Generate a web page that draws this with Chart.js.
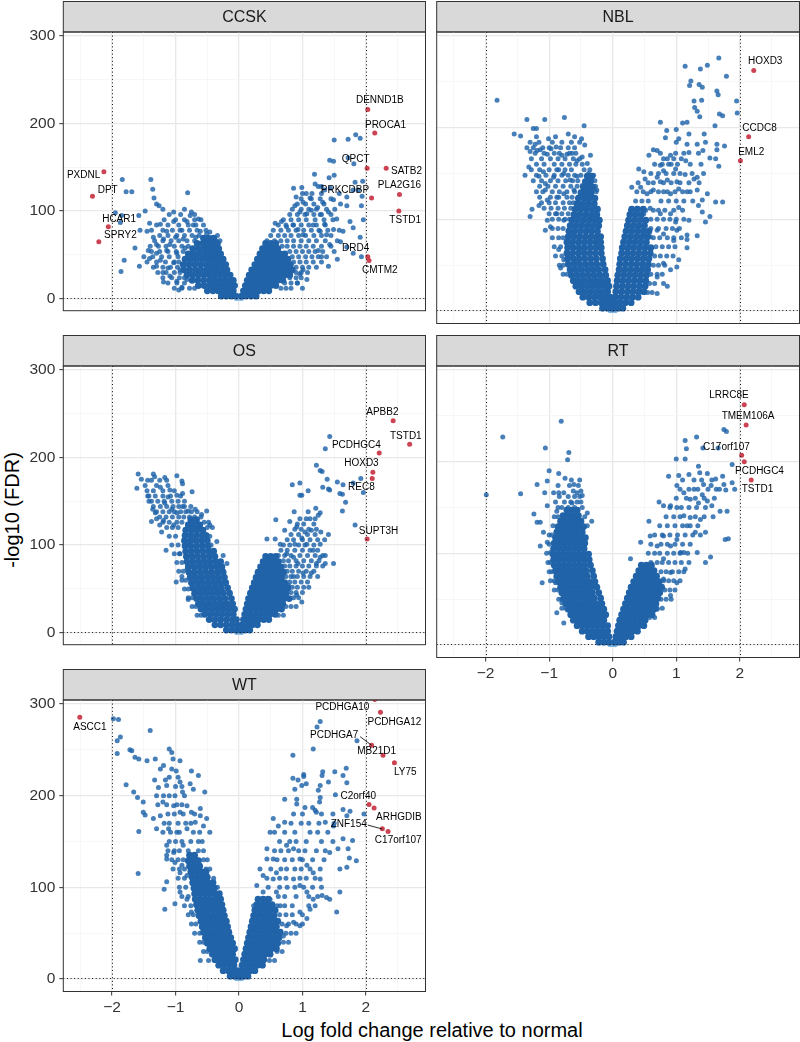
<!DOCTYPE html>
<html>
<head>
<meta charset="utf-8">
<script src="https://cdn.jsdelivr.net/npm/chart.js@4.4.0/dist/chart.umd.min.js"></script>
<style>
  body{margin:0;background:#fff;width:800px;height:1042px;position:relative;overflow:hidden;font-family:"Liberation Sans",Arial,sans-serif}
  canvas{position:absolute}
  .ttl{position:absolute;font-size:20px;color:#000;white-space:nowrap;transform:translate(-50%,-50%)}
</style>
</head>
<body>
<div class="ttl" style="left:432px;top:1030px">Log fold change relative to normal</div>
<div class="ttl" style="left:12px;top:510px;transform:translate(-50%,-50%) rotate(-90deg)">-log10 (FDR)</div>
<script>
// axis limits and ticks
const X_MIN = -2.77, X_MAX = 2.94, Y_MIN = -13.7, Y_MAX = 304.4;
const xGrid = [-2.5,-2,-1.5,-1,-0.5,0,0.5,1,1.5,2,2.5];
const xLabels = [-2,-1,0,1,2];
const yGrid = [0,50,100,150,200,250,300];
const yLabels = [0,100,200,300];
const vLines = [-2,2];
const hLines = [1.3];

// light points sitting at the origin
const centerPts = [[0,0.4],[-0.04,0.2],[0.04,0.2]];

// ---- CCSK ----
const ccskPts = [[-1.84,136],[-1.78,122],[-1.69,122],[-1.95,98],[-1.85,95],[-1.87,87],[-1.58,95],[-1.48,100],[-1.39,136],[-1.36,125],[-1.34,115],[-1.30,108],[-1.26,106],[-1.03,99],[-0.81,121],[-0.77,95],[-1.41,86],[-1.56,78],[-1.64,58],[-1.81,44],[-1.86,31],[-1.57,37],[-1.41,46],[-1.30,52],
[-1.24,85],[-1.14,77],[-1.03,88],[-0.93,78],[-0.88,68],[-1.09,62],[-0.98,52],[-1.19,68],[-1.35,70],[-1.45,77],[-1.30,62],[-1.43,55],[-1.24,44],[-1.14,55],[-0.82,88],[-0.72,84],[-0.61,77],[-0.75,99],[-0.64,91],[-0.51,74],[-0.56,66],[-0.46,76],[-1.03,41],[-0.93,33],[-1.09,26],[-1.19,19],[-0.82,22],[-1.30,37],[-1.12,35],[-0.98,20],[-0.9,13],[-1.0,70],[-0.68,70],[-1.2,30],[-0.95,10],[-0.85,58],
[1.84,187],[1.91,183],[1.50,181],[1.72,182],[1.43,158],[1.49,157],[1.72,161],[1.81,154],[1.19,142],[1.42,138],[1.50,141],[1.83,133],[1.95,134],[0.86,126],[0.99,127],[1.06,120],[1.20,131],[1.25,128],[1.30,128],[1.35,124],[1.44,126],[1.58,120],[1.70,116],[1.80,124],[1.88,124],[1.94,117],[0.90,116],[1.01,110],[1.12,115],[1.24,104],[1.32,110],[1.49,113],[1.51,102],[1.70,106],[1.93,106],[0.88,106],[0.96,99],[1.07,97],[1.14,101],[1.28,96],[1.41,99],[1.54,91],[1.75,88],[1.96,90],[0.57,86],[0.67,88],[0.75,82],[0.85,84],[0.93,79],[1.01,73],[1.17,84],[1.28,77],[1.38,73],[1.49,79],[1.64,77],[1.80,81],[1.91,70],[1.30,48],[1.43,62],[1.70,59],[1.80,52],[1.93,48],[1.41,37],[1.01,33],[1.07,22],[0.96,28],
[1.25,55],[1.35,85],[1.6,65],[1.55,45],[0.92,18],[1.0,12]];
// semi-dense arm rows: [y, x, x, ...]
const ccskMid = [
[12,-1.02,-0.9,-0.78,-0.7,0.66,0.74,0.82],
[18,-1.12,-0.98,-0.86,0.72,0.82,0.92],
[24,-1.2,-1.06,-0.94,-0.86,0.8,0.9,0.98],
[30,-1.28,-1.15,-1.02,-0.93,0.9,0.98,1.08],
[36,-1.35,-1.2,-1.08,-0.97,0.9,1.0,1.1,1.22],
[42,-1.45,-1.3,-1.16,-1.02,-0.95,0.86,0.96,1.06,1.17,1.3],
[48,-1.5,-1.36,-1.22,-1.1,-0.96,0.84,0.94,1.05,1.15,1.25,1.38],
[54,-1.38,-1.25,-1.12,-0.99,-0.88,0.8,0.9,1.0,1.1,1.2,1.32,1.5],
[60,-1.4,-1.27,-1.15,-1.02,-0.9,-0.8,0.68,0.76,0.86,0.96,1.06,1.17,1.3,1.45],
[66,-1.33,-1.2,-1.07,-0.95,-0.82,-0.7,-0.36,-0.3,0.44,0.56,0.66,0.76,0.86,0.98,1.1,1.22,1.36,1.55],
[72,-1.25,-1.12,-0.98,-0.86,-0.74,-0.63,-0.34,0.5,0.62,0.72,0.82,0.94,1.05,1.18,1.3,1.45],
[78,-1.38,-1.2,-1.05,-0.9,-0.78,-0.66,-0.52,0.54,0.66,0.78,0.9,1.02,1.14,1.26,1.4,1.58],
[84,-1.3,-1.12,-0.95,-0.8,-0.68,-0.56,0.62,0.74,0.86,0.98,1.1,1.22,1.36],
[90,-1.18,-1.0,-0.86,-0.7,-0.6,0.7,0.82,0.94,1.06,1.2,1.34,1.48],
[96,-1.1,-0.92,-0.7,0.8,0.92,1.04,1.18,1.3,1.45],
[102,-1.2,-0.86,0.84,0.98,1.1,1.22,1.38],
[108,0.92,1.05,1.18,1.34,1.6],
[114,0.98,1.14,1.28,1.45],
[120,1.0,1.15,1.3]];
// dense core, one row per y: [y, x, x, ...]
const ccskCore = [
[3,-0.28,-0.2,-0.12,-0.05,0.04,0.11,0.19,0.27],
[9,-0.5,-0.41,-0.33,-0.25,-0.17,-0.09,0.07,0.15,0.23,0.31,0.39,0.47],
[15,-0.64,-0.55,-0.46,-0.38,-0.3,-0.22,-0.14,-0.07,0.1,0.18,0.26,0.34,0.42,0.5,0.58],
[21,-0.74,-0.65,-0.56,-0.47,-0.39,-0.31,-0.23,-0.15,-0.09,0.13,0.21,0.29,0.37,0.45,0.53,0.61,0.69],
[27,-0.82,-0.73,-0.64,-0.55,-0.46,-0.38,-0.3,-0.22,-0.14,0.16,0.24,0.32,0.4,0.48,0.56,0.64,0.72,0.8],
[33,-0.87,-0.78,-0.69,-0.6,-0.51,-0.43,-0.35,-0.27,-0.19,0.2,0.28,0.36,0.44,0.52,0.6,0.68,0.76,0.84],
[39,-0.88,-0.79,-0.7,-0.61,-0.52,-0.44,-0.36,-0.28,-0.21,0.25,0.33,0.41,0.49,0.57,0.65,0.73,0.81],
[45,-0.85,-0.76,-0.67,-0.58,-0.49,-0.41,-0.33,-0.25,0.29,0.37,0.45,0.53,0.61,0.69,0.77],
[51,-0.8,-0.71,-0.62,-0.53,-0.45,-0.37,-0.29,0.33,0.41,0.49,0.57,0.65,0.72],
[57,-0.73,-0.64,-0.55,-0.47,-0.39,-0.32,0.37,0.45,0.53,0.61],
[63,-0.66,-0.57,-0.49,-0.41,-0.34,0.42,0.5,0.58],
[69,-0.56,-0.48,-0.4]];
const ccskRed = [[2.03,216],[2.14,189],[2.02,149],[2.32,149],[2.53,119],[2.09,115],[2.52,100],[2.03,48],[2.05,43.5],[-2.13,145],[-2.31,117],[-2.06,82],[-2.21,65]];
const ccskLab = [['DENND1B',2.22,226],['PROCA1',2.31,198],['QPCT',1.84,159],['SATB2',2.64,146],['PLA2G16',2.53,129],['PRKCDBP',1.67,124],['TSTD1',2.62,90],['DRD4',1.84,58],['CMTM2',2.22,33],['PXDNL',-2.45,141],['DPT',-2.07,124],['HCAR1',-1.89,91],['SPRY2',-1.87,72]];

// ---- NBL ----
const nblPts = [[-1.82,230],[-1.35,209],[-1.07,209],[-0.76,211],[-0.45,202],[-1.55,193],[-1.45,191],[-1.25,199],[-1.20,199],[-1.01,188],[-0.70,193],[-0.49,188],[-0.44,181],[-1.35,178],[-1.30,174],[-1.22,182],[-1.19,175],[-1.14,176],[-1.03,171],[-0.97,177],[-0.89,179],[-0.80,170],[-0.72,171],[-0.64,172],[-0.56,164],[-0.48,168],[-0.40,161],[-0.35,170],[-1.32,157],[-1.38,148],[-1.16,147],[-1.09,152],[-1.06,139],[-0.93,146],[-0.85,154],[-0.77,150],[-0.67,143],[-0.56,147],[-0.48,137],[-0.38,150],[-0.33,147],[-1.06,132],[-1.03,121],[-0.88,124],[-0.77,128],[-0.61,132],[-0.46,128],[-0.40,121],[-0.30,124],[-0.25,132],[-1.27,111],[-1.30,103],[-1.16,115],[-1.03,99],[-1.06,88],[-0.98,92],[-0.88,106],[-0.77,99],[-0.67,84],[-0.56,103],[-0.85,67],[-0.82,47],[-0.77,56],[-0.69,59],[-0.67,70],[-0.61,45],[-0.56,56],[-0.51,67],
[1.67,276],[1.14,267],[1.38,264],[1.49,268],[1.79,256],[1.23,251],[1.21,246],[1.36,247],[1.41,244],[1.64,240],[1.66,236],[1.95,229],[1.96,216],[1.28,229],[1.40,230],[1.29,222],[1.37,212],[1.33,218],[1.68,215],[1.73,213],[0.75,206],[1.10,205],[1.17,206],[1.61,202],[0.85,197],[1.00,198],[1.04,188],[1.20,193],[1.44,193],[0.83,189],[1.00,184],[1.17,182],[1.33,182],[1.46,184],[1.64,182],[1.76,180],[1.64,176],[0.57,170],[0.64,176],[0.70,175],[0.75,172],[0.91,170],[0.99,172],[1.12,172],[1.20,173],[1.35,172],[1.42,175],[1.53,167],[1.62,166],[1.67,158],[0.75,159],[0.80,153],[0.88,160],[0.99,155],[1.15,164],[1.39,160],[0.41,155],[0.49,152],[0.51,144],[0.70,146],[0.75,141],[0.86,143],[1.01,141],[1.14,149],[1.28,144],[1.33,146],[1.43,150],[0.30,135],[0.44,135],[0.54,128],[0.64,132],[0.80,130],[0.91,128],[1.04,133],[1.17,130],[1.33,132],[1.49,128],[1.41,121],[1.62,119],[1.73,119],[0.28,110],[0.38,112],[0.49,106],[0.59,112],[0.75,106],[0.91,106],[1.04,113],[1.20,99],[1.35,115],[1.41,108],[1.53,103],[1.46,97],[0.99,97],[1.17,83],[1.33,82],[1.17,78],[1.17,69],[1.01,88],[0.96,77],[0.80,84],[0.70,88],[0.59,81],[0.49,84],[1.04,56],[1.01,48],[0.91,45],[0.80,52],[0.70,37],[0.80,30],[0.70,19],[0.86,27],[0.54,48]];
const nblMid = [
[20,0.55,0.62],
[30,0.58,0.66],
[40,-0.78,-0.72,0.6,0.7,0.78],
[50,-0.84,-0.78,0.64,0.72,0.82],
[60,-0.9,-0.8,0.66,0.75,0.85,0.95],
[70,-0.92,-0.82,0.68,0.78,0.88,0.98],
[80,-0.95,-0.85,-0.78,0.64,0.74,0.86,0.96,1.08],
[90,-0.95,-0.86,-0.78,0.6,0.72,0.84,0.94,1.05],
[100,-0.95,-0.85,-0.75,-0.68,0.6,0.7,0.8,0.9,1.0,1.12],
[106,-1.0,-0.9,-0.8,-0.7],
[110,0.52,0.64,0.72,0.82,0.96,1.1],
[112,-1.08,-0.97,-0.86,-0.76,-0.66],
[118,-1.12,-1.0,-0.9,-0.78,-0.68,-0.62],
[120,0.36,0.46,0.56,0.76,0.88,1.0,1.12,1.26],
[124,-1.15,-0.98,-0.85,-0.72,-0.64],
[130,-1.2,-1.1,-0.95,-0.84,-0.72,-0.6,-0.26,0.38,0.48,0.6,0.72,0.86,0.98,1.1,1.22],
[136,-1.15,-1.02,-0.9,-0.78,-0.66,-0.56,-0.27],
[140,0.4,0.56,0.64,0.8,0.92,1.06,1.2,1.36],
[142,-1.25,-1.12,-0.98,-0.86,-0.74,-0.63,-0.55,-0.28],
[148,-1.2,-1.05,-0.92,-0.8,-0.7,-0.6,-0.5,-0.3],
[150,0.6,0.72,0.84,0.96,1.06,1.25],
[154,-1.28,-1.15,-1.0,-0.88,-0.75,-0.65,-0.45,-0.36],
[160,-1.2,-1.08,-0.92,-0.8,-0.68,-0.58,-0.48,0.66,0.78,0.92,1.02,1.22],
[166,-1.28,-1.12,-0.98,-0.86,-0.75,-0.62,-0.52,0.8,0.86,0.96,1.08],
[172,-1.22,-1.08,-0.92,-0.84,-0.68,-0.58],
[178,-1.25,-1.1,-1.0,-0.82,-0.7,-0.6],
[184,-1.3,-1.16,-0.95,-0.8,-0.65,-0.52],
[190,-1.2,-0.9,-0.6]];
const nblCore = [
[3,-0.16,-0.08,-0.01,0.02,0.09,0.16],
[9,-0.36,-0.27,-0.18,-0.1,-0.03,0.03,0.11,0.2,0.29],
[15,-0.47,-0.38,-0.29,-0.2,-0.12,-0.04,0.04,0.13,0.22,0.31,0.4],
[21,-0.53,-0.44,-0.35,-0.26,-0.17,-0.08,0.05,0.14,0.23,0.32,0.41,0.49],
[27,-0.58,-0.49,-0.4,-0.31,-0.22,-0.13,-0.06,0.06,0.15,0.24,0.33,0.42,0.51],
[33,-0.62,-0.53,-0.44,-0.35,-0.26,-0.17,-0.08,0.07,0.16,0.25,0.34,0.43,0.52],
[39,-0.65,-0.56,-0.47,-0.38,-0.29,-0.2,-0.11,0.08,0.17,0.26,0.35,0.44,0.53],
[45,-0.67,-0.58,-0.49,-0.4,-0.31,-0.22,-0.12,0.1,0.19,0.28,0.37,0.46,0.55],
[51,-0.7,-0.61,-0.52,-0.43,-0.34,-0.25,-0.15,0.11,0.2,0.29,0.38,0.47,0.56],
[57,-0.71,-0.62,-0.53,-0.44,-0.35,-0.26,-0.16,0.12,0.21,0.3,0.39,0.48,0.57],
[63,-0.72,-0.63,-0.54,-0.45,-0.36,-0.27,-0.18,0.14,0.23,0.32,0.41,0.5,0.59],
[69,-0.71,-0.62,-0.53,-0.44,-0.35,-0.26,-0.18,0.15,0.24,0.33,0.42,0.51,0.6],
[75,-0.72,-0.63,-0.54,-0.45,-0.36,-0.27,-0.19,0.17,0.26,0.35,0.44,0.53],
[81,-0.7,-0.61,-0.52,-0.43,-0.34,-0.25,-0.19,0.19,0.28,0.37,0.46,0.55],
[87,-0.69,-0.6,-0.51,-0.42,-0.33,-0.24,0.21,0.3,0.39,0.48,0.57],
[93,-0.67,-0.58,-0.49,-0.4,-0.31,-0.22,0.23,0.32,0.41,0.5],
[99,-0.64,-0.55,-0.46,-0.37,-0.28,-0.21,0.25,0.34,0.43,0.52],
[105,-0.61,-0.52,-0.43,-0.34,-0.25,0.27,0.36,0.45],
[111,-0.59,-0.5,-0.41,-0.32,-0.24,0.3,0.39,0.48],
[117,-0.56,-0.47,-0.38,-0.29],
[123,-0.54,-0.45,-0.36,-0.28],
[129,-0.5,-0.42,-0.34],
[135,-0.46,-0.38,-0.31],
[141,-0.43,-0.35],
[147,-0.4,-0.33]];
const nblRed = [[2.22,262.5],[2.14,190],[2.01,164]];
const nblLab = [['HOXD3',2.40,272],['CCDC8',2.31,199],['EML2',2.18,173]];

// ---- OS ----
const osPts = [[-1.59,181],[-1.54,175],[-1.61,165],[-1.35,181],[-1.33,178],[-1.38,174],[-1.17,177],[-1.14,174],[-0.98,179],[-0.90,173],[-0.89,170],[-1.44,156],[-1.42,150],[-1.36,141],[-1.30,130],[-1.25,123],[-1.38,127],[-1.32,137],[-1.24,166],[-1.09,163],[-0.98,157],[-0.89,159],[-0.74,161],[-1.12,155],[-1.17,148],[-1.06,141],[-0.98,137],[-0.89,144],[-0.80,139],[-0.69,141],[-0.59,135],[-0.51,139],[-1.19,128],[-1.15,94],[-1.22,115],[-1.03,123],[-0.99,58],[-0.93,90],[-0.82,101],[-0.75,108],[-0.80,38],[-0.90,64],[-0.82,72],[-0.72,50],[-0.61,43],[-0.46,123],[-0.35,104],[-0.25,88],[-0.19,79],
[1.43,224],[1.36,210],[1.22,191],[1.28,185],[1.31,184],[1.39,175],[1.55,172],[1.64,169],[1.80,171],[1.92,176],[1.96,160],[1.32,166],[1.41,164],[1.43,163],[0.84,169],[0.96,171],[1.09,162],[0.96,157],[0.99,157],[1.59,159],[1.63,158],[1.68,149],[1.63,139],[1.83,123],[0.87,138],[1.09,138],[1.21,142],[1.28,137],[1.12,130],[1.25,134],[1.29,115],[1.41,112],[1.49,79],[1.36,79],[1.28,101],[1.32,88],[0.58,129],[0.72,117],[0.80,127],[0.91,121],[1.04,115],[1.14,117],[0.99,108],[0.88,101],[1.07,101],[1.17,94],[1.28,86],[1.14,68],[1.22,79],[0.44,107],[0.57,107],[0.65,101],[0.75,90],[0.86,86],[0.93,79],[1.01,68],[0.86,64],[0.78,54],[0.91,43],[0.99,35],[0.70,43]];
const osMid = [
[20,-0.66,-0.6,0.62,0.7],
[30,-0.74,-0.68,0.74,0.82,0.9],
[40,-0.8,-0.74,0.86,0.94],
[46,0.82,0.9,1.0],
[50,-0.86,-0.8],
[52,0.84,0.92,1.02,1.1],
[58,0.8,0.88,0.98,1.08],
[60,-0.9,-0.84],
[64,0.74,0.82,0.92,1.02,1.12,1.24],
[70,-0.95,-0.88,0.76,0.84,0.94,1.06,1.18],
[76,0.72,0.8,0.9,1.0,1.1,1.22,1.32],
[80,-0.98,-0.9],
[82,0.7,0.78,0.9,1.02,1.14,1.26],
[88,0.62,0.72,0.82,0.96,1.08,1.2,1.36],
[90,-1.02,-0.94],
[94,0.66,0.76,0.88,1.0,1.12,1.24],
[100,-1.06,-0.96,-0.44,0.7,0.8,0.94,1.04,1.18],
[106,0.76,0.86,1.0,1.12,1.24,1.35],
[110,-1.1,-1.0,-0.46],
[112,0.82,0.94,1.08,1.2],
[118,0.88,0.98,1.1,1.22],
[120,-1.14,-1.05,-0.96,-0.5,-0.42],
[124,0.92,1.02,1.18],
[126,-1.2,-1.1,-0.98,-0.9,-0.55,-0.48],
[130,0.96,1.06,1.2],
[132,-1.25,-1.15,-1.05,-0.95,-0.87,-0.78,-0.7,-0.6],
[138,-1.3,-1.2,-1.1,-1.02,-0.92,-0.84,-0.75,-0.66],
[144,-1.35,-1.24,-1.14,-1.04,-0.95,-0.86,-0.76],
[150,-1.38,-1.28,-1.18,-1.06,-0.96,-0.86],
[156,-1.42,-1.32,-1.2,-1.08,-0.92],
[162,-1.45,-1.35,-1.2,-1.02],
[168,-1.48,-1.3,-1.12],
[174,-1.44,-1.25]];
const osCore = [
[3,-0.2,-0.12,-0.04,0.03,0.1,0.17],
[9,-0.38,-0.29,-0.2,-0.11,-0.03,0.05,0.13,0.21,0.29],
[15,-0.47,-0.38,-0.29,-0.2,-0.11,-0.04,0.07,0.15,0.23,0.31,0.39,0.47],
[21,-0.54,-0.45,-0.36,-0.27,-0.18,-0.09,0.09,0.17,0.25,0.33,0.41,0.49,0.57],
[27,-0.6,-0.51,-0.42,-0.33,-0.24,-0.15,-0.07,0.11,0.19,0.27,0.35,0.43,0.51,0.59,0.67],
[33,-0.64,-0.55,-0.46,-0.37,-0.28,-0.19,-0.1,0.13,0.21,0.29,0.37,0.45,0.53,0.61,0.69],
[39,-0.67,-0.58,-0.49,-0.4,-0.31,-0.22,-0.12,0.15,0.23,0.31,0.39,0.47,0.55,0.63,0.71,0.79],
[45,-0.7,-0.61,-0.52,-0.43,-0.34,-0.25,-0.15,0.18,0.26,0.34,0.42,0.5,0.58,0.66,0.74],
[51,-0.73,-0.64,-0.55,-0.46,-0.37,-0.28,-0.18,0.21,0.29,0.37,0.45,0.53,0.61,0.69,0.77],
[57,-0.75,-0.66,-0.57,-0.48,-0.39,-0.3,-0.21,0.24,0.32,0.4,0.48,0.56,0.64,0.72],
[63,-0.77,-0.68,-0.59,-0.5,-0.41,-0.32,-0.23,0.27,0.35,0.43,0.51,0.59,0.67],
[69,-0.79,-0.7,-0.61,-0.52,-0.43,-0.34,-0.25,0.3,0.38,0.46,0.54,0.62,0.7],
[75,-0.8,-0.71,-0.62,-0.53,-0.44,-0.35,-0.27,0.34,0.42,0.5,0.58,0.66],
[81,-0.82,-0.73,-0.64,-0.55,-0.46,-0.37,-0.29,0.38,0.46,0.54,0.62],
[87,-0.83,-0.74,-0.65,-0.56,-0.47,-0.38,0.42,0.5,0.58],
[93,-0.84,-0.75,-0.66,-0.57,-0.48,-0.4],
[99,-0.85,-0.76,-0.67,-0.58,-0.49],
[105,-0.86,-0.77,-0.68,-0.59,-0.5],
[111,-0.85,-0.76,-0.67,-0.58,-0.52],
[117,-0.84,-0.75,-0.66,-0.57],
[123,-0.8,-0.71,-0.62],
[129,-0.76,-0.67]];
const osRed = [[2.43,242],[2.69,215],[2.21,205],[2.11,183],[2.10,176],[2.02,107]];
const osLab = [['APBB2',2.26,252],['TSTD1',2.63,224],['PCDHGC4',1.85,214],['HOXD3',1.93,193],['REC8',1.93,166],['SUPT3H',2.2,116]];

// ---- RT ----
const rtPts = [[-1.99,164],[-1.73,227],[-1.45,165],[-1.06,215],[-0.81,244],[-0.69,210],[-0.71,202],[-1.00,190],[-0.85,187],[-1.19,175],[-1.03,179],[-1.07,166],[-0.93,166],[-0.85,166],[-0.77,166],[-0.75,182],[-0.61,175],[-0.56,166],[-0.48,163],[-0.64,155],[-1.24,143],[-1.19,134],[-1.14,134],[-1.03,152],[-0.88,146],[-0.77,141],[-0.72,148],[-0.56,137],[-0.40,144],[-0.33,135],[-1.09,123],[-1.14,108],[-1.03,112],[-0.98,101],[-1.11,68],[-0.90,68],[-0.82,64],[-0.77,83],[-0.67,75],[-0.80,46],[-0.88,35],[-0.77,24],
[1.75,235],[1.79,233],[1.32,227],[1.14,223],[1.16,214],[1.42,215],[1.66,215],[1.00,203],[1.14,203],[1.35,195],[1.88,197],[1.73,184],[1.88,177],[1.92,170],[1.78,169],[0.88,184],[1.04,185],[1.20,186],[1.37,188],[1.49,187],[1.62,181],[1.75,175],[1.63,170],[1.55,174],[1.43,175],[1.01,174],[1.12,166],[1.28,170],[1.41,164],[1.49,157],[1.35,155],[1.22,159],[1.56,152],[1.69,146],[1.80,146],[0.73,156],[0.80,152],[0.91,152],[1.01,150],[1.12,141],[1.22,139],[1.38,137],[1.17,130],[1.30,123],[1.46,123],[1.77,115],[1.82,116],[1.54,96],[1.46,90],[1.33,101],[1.12,101],[0.80,94],[0.44,112],[0.28,94],[0.57,135],[0.59,119],[0.70,108],[0.80,119],[0.91,108],[1.01,115],[1.07,101],[1.14,83],[0.91,79],[0.80,72],[0.70,64],[1.01,68],[0.91,54],[0.70,39],[0.59,50]];
const rtMid = [
[30,0.58,0.66],
[40,-0.8,-0.74,0.7,0.78],
[50,-0.85,-0.8,0.76,0.84,0.92],
[60,-0.92,-0.86,0.82,0.9,0.98],
[70,-0.98,-0.92,0.8,0.88,0.96,1.06],
[80,-1.0,-0.96,0.76,0.84,0.94,1.04,1.12],
[90,-1.02,-0.98,0.6,0.7,0.78,0.88,0.98,1.08,1.2],
[100,-1.04,0.56,0.66,0.74,0.86,0.96,1.06,1.18],
[110,-1.0,0.6,0.76,0.86,0.98,1.1,1.22],
[120,-1.0,-0.96,0.66,0.78,0.9,1.02,1.14,1.26,1.38],
[130,-0.94,-0.4,0.74,0.86,0.98,1.1,1.22,1.34],
[140,-0.92,-0.86,-0.44,0.84,0.96,1.06,1.3,1.44,1.58],
[150,-0.86,-0.8,-0.7,-0.6,-0.48,0.9,1.08,1.2,1.32,1.46],
[156,-0.9,-0.76,-0.66,-0.56,-0.5],
[160,1.0,1.16,1.3,1.44,1.6],
[162,-0.84,-0.7,-0.6,-0.52],
[168,-0.62,-0.5],
[170,1.06,1.2,1.34,1.5,1.68],
[174,-0.86,-0.68,-0.54],
[180,-0.65,-0.52,1.1,1.28,1.4,1.56]];
const rtCore = [
[3,-0.22,-0.14,-0.06,0.03,0.1,0.17],
[9,-0.38,-0.3,-0.22,-0.14,-0.06,0.05,0.13,0.21,0.29],
[15,-0.48,-0.4,-0.32,-0.24,-0.16,-0.08,0.07,0.15,0.23,0.31,0.39],
[21,-0.56,-0.48,-0.4,-0.32,-0.24,-0.16,-0.08,0.09,0.17,0.25,0.33,0.41,0.49],
[27,-0.62,-0.54,-0.46,-0.38,-0.3,-0.22,-0.14,0.11,0.19,0.27,0.35,0.43,0.51],
[33,-0.66,-0.58,-0.5,-0.42,-0.34,-0.26,-0.18,-0.11,0.14,0.22,0.3,0.38,0.46,0.54,0.62],
[39,-0.7,-0.62,-0.54,-0.46,-0.38,-0.3,-0.22,-0.14,0.17,0.25,0.33,0.41,0.49,0.57,0.65],
[45,-0.74,-0.66,-0.58,-0.5,-0.42,-0.34,-0.26,-0.17,0.2,0.28,0.36,0.44,0.52,0.6,0.68],
[51,-0.77,-0.69,-0.61,-0.53,-0.45,-0.37,-0.29,-0.19,0.23,0.31,0.39,0.47,0.55,0.63,0.71],
[57,-0.8,-0.72,-0.64,-0.56,-0.48,-0.4,-0.32,-0.22,0.26,0.34,0.42,0.5,0.58,0.66,0.74],
[63,-0.82,-0.74,-0.66,-0.58,-0.5,-0.42,-0.34,-0.25,0.29,0.37,0.45,0.53,0.61,0.69,0.77],
[69,-0.85,-0.77,-0.69,-0.61,-0.53,-0.45,-0.37,-0.28,0.33,0.41,0.49,0.57,0.65,0.73],
[75,-0.88,-0.8,-0.72,-0.64,-0.56,-0.48,-0.4,-0.3,0.37,0.45,0.53,0.61,0.69],
[81,-0.9,-0.82,-0.74,-0.66,-0.58,-0.5,-0.42,-0.32,0.41,0.49,0.57,0.65],
[87,-0.92,-0.84,-0.76,-0.68,-0.6,-0.52,-0.44,-0.35,0.45,0.53,0.61],
[93,-0.93,-0.85,-0.77,-0.69,-0.61,-0.53,-0.45,-0.37],
[99,-0.94,-0.86,-0.78,-0.7,-0.62,-0.54,-0.46,-0.38],
[105,-0.93,-0.85,-0.77,-0.69,-0.61,-0.53,-0.45],
[111,-0.92,-0.84,-0.76,-0.68,-0.6,-0.52,-0.44],
[117,-0.9,-0.82,-0.74,-0.66,-0.58,-0.5,-0.43],
[123,-0.88,-0.8,-0.72,-0.64,-0.56,-0.48],
[129,-0.86,-0.78,-0.7,-0.62,-0.54,-0.46],
[135,-0.82,-0.74,-0.66,-0.58,-0.5],
[141,-0.78,-0.7,-0.62,-0.54],
[147,-0.72,-0.64,-0.56]];
const rtRed = [[2.07,262],[2.10,240],[2.03,207],[2.07,200],[2.18,180]];
const rtLab = [['LRRC8E',1.83,272],['TMEM106A',2.13,250],['C17orf107',1.79,216],['PCDHGC4',2.31,190],['TSTD1',2.28,170]];

// ---- WT ----
const wtPts = [[-1.98,284],[-1.90,283],[-1.87,264],[-1.92,260],[-1.92,246],[-1.40,271],[-1.72,250],[-1.69,249],[-1.64,242],[-1.58,240],[-1.45,238],[-1.32,240],[-1.19,233],[-1.24,229],[-1.10,251],[-1.06,247],[-1.04,240],[-0.93,238],[-1.06,229],[-0.99,227],[-1.78,212],[-1.66,204],[-1.60,198],[-1.51,193],[-1.33,217],[-1.27,209],[-1.16,217],[-1.14,211],[-1.30,200],[-0.93,215],[-0.75,227],[-0.64,222],[-0.72,207],[-0.77,213],[-0.89,204],[-1.01,200],[-1.19,200],[-1.20,193],[-1.51,182],[-1.48,179],[-1.58,161],[-1.59,115],[-1.18,98],[-1.17,76],[-1.01,82],[-1.14,106],[-0.93,116],[-1.14,131],[-1.14,146],[-1.35,175],[-1.24,178],[-1.03,189],[-0.93,182],[-0.82,189],[-0.75,182],[-0.61,186],[-0.54,204],[-1.30,164],[-1.11,164],[-0.98,160],[-0.82,164],[-0.69,171],[-0.61,178],[-0.56,167],[-0.46,160],[-0.51,175],[-1.14,135],[-1.03,138],[-0.88,146],[-0.77,135],[-0.67,131],[-0.90,124],[-1.01,127],[-0.82,113],[-0.72,106],[-0.61,95],[-0.46,102],[-0.61,73],[-0.51,51],[-0.40,33],[-0.61,20],[-0.48,20],[-0.82,87],[-0.93,95],[-0.75,73],
[1.28,281],[1.23,275],[1.17,251],[0.85,244],[1.86,260],[1.69,230],[1.64,222],[1.70,214],[1.51,226],[1.41,215],[1.32,226],[1.31,222],[1.28,211],[1.02,223],[1.02,221],[1.06,213],[0.93,217],[0.85,219],[0.99,211],[0.88,207],[0.91,196],[1.25,206],[1.28,198],[1.27,193],[1.22,182],[1.20,184],[1.16,187],[1.04,187],[0.91,191],[0.72,196],[1.52,201],[1.97,180],[1.75,183],[1.70,178],[1.64,185],[1.36,171],[1.49,167],[1.64,153],[1.72,142],[1.79,151],[1.85,129],[1.59,120],[1.70,122],[1.74,132],[1.56,142],[1.43,138],[1.38,89],[1.43,87],[1.54,73],[1.59,95],[1.28,109],[1.31,91],[1.17,116],[1.07,124],[0.96,131],[0.86,142],[0.75,146],[0.62,167],[0.54,175],[0.49,160],[0.72,171],[0.44,142],[0.54,131],[0.33,120],[0.44,131],[0.59,116],[0.75,120],[0.86,109],[0.96,102],[1.07,95],[1.17,87],[1.12,76],[0.96,73],[0.86,62],[0.75,58],[0.70,47],[0.96,58],[1.07,66],[0.28,102],[0.38,95],[0.49,87],[0.59,95],[0.65,80],[0.23,80],[0.54,109],[0.38,113]];
const wtMid = [
[20,0.48,0.56],
[30,-0.56,-0.5,0.6,0.68],
[40,-0.62,-0.56,0.7,0.78],
[50,-0.7,-0.62,0.74,0.82,0.9],
[60,-0.75,-0.68,0.68,0.78,0.9,1.0],
[70,-0.8,-0.72,0.64,0.74,0.84,1.0],
[80,-0.86,-0.76,0.6,0.72,0.84,1.1,1.2],
[90,-0.9,-0.8,0.62,0.72,0.9,1.1,1.24],
[100,-0.94,-0.84,-0.34,0.46,0.64,0.76,0.88,1.02,1.16,1.3],
[110,-0.96,-0.86,-0.4,0.44,0.64,0.74,0.96,1.06,1.2],
[120,-1.04,-0.94,-0.86,-0.52,-0.46,0.5,0.66,0.88,0.98,1.12,1.28],
[130,-1.06,-0.96,-0.88,-0.56,-0.5,0.6,0.72,0.84,1.0,1.16,1.34],
[140,-1.12,-1.02,-0.94,-0.8,-0.64,-0.56,0.56,0.66,0.78,0.94,1.04,1.22,1.36],
[150,-1.1,-1.0,-0.9,-0.76,-0.64,-0.58,0.64,0.8,0.9,1.06,1.3,1.48],
[160,-1.2,-1.08,-0.94,-0.72,-0.62,0.56,0.72,0.88,1.12,1.24,1.4],
[170,-1.18,-1.1,-0.96,-0.84,-0.76,0.82,0.98,1.1,1.26,1.5],
[180,-1.12,-1.02,-0.88,-0.7,0.86,1.0,1.3,1.48],
[190,-1.28,-1.14,-0.98,-0.9],
[200,-1.1,-0.86],
[210,-1.0,-0.9],
[220,-1.1,-0.96]];
const wtCore = [
[3,-0.14,-0.07,0,0.02,0.08,0.14],
[9,-0.25,-0.17,-0.09,-0.02,0.04,0.11,0.18,0.25],
[15,-0.32,-0.24,-0.16,-0.08,0.05,0.13,0.21,0.29,0.37],
[21,-0.38,-0.3,-0.22,-0.14,-0.06,0.07,0.15,0.23,0.31,0.39],
[27,-0.42,-0.34,-0.26,-0.18,-0.1,0.09,0.17,0.25,0.33,0.41,0.49],
[33,-0.46,-0.38,-0.3,-0.22,-0.14,-0.07,0.11,0.19,0.27,0.35,0.43,0.51,0.59],
[39,-0.5,-0.42,-0.34,-0.26,-0.18,-0.1,0.13,0.21,0.29,0.37,0.45,0.53,0.61],
[45,-0.53,-0.45,-0.37,-0.29,-0.21,-0.13,0.15,0.23,0.31,0.39,0.47,0.55,0.63],
[51,-0.56,-0.48,-0.4,-0.32,-0.24,-0.16,0.17,0.25,0.33,0.41,0.49,0.57,0.65],
[57,-0.58,-0.5,-0.42,-0.34,-0.26,-0.18,0.19,0.27,0.35,0.43,0.51,0.59],
[63,-0.6,-0.52,-0.44,-0.36,-0.28,-0.2,0.21,0.29,0.37,0.45,0.53,0.61],
[69,-0.63,-0.55,-0.47,-0.39,-0.31,-0.23,0.23,0.31,0.39,0.47,0.55],
[75,-0.65,-0.57,-0.49,-0.41,-0.33,-0.25,0.25,0.33,0.41,0.49,0.57],
[81,-0.67,-0.59,-0.51,-0.43,-0.35,-0.27,0.28,0.36,0.44,0.52],
[87,-0.69,-0.61,-0.53,-0.45,-0.37,-0.29,0.3,0.38,0.46],
[93,-0.7,-0.62,-0.54,-0.46,-0.38,-0.31],
[99,-0.71,-0.63,-0.55,-0.47,-0.39],
[105,-0.73,-0.65,-0.57,-0.49,-0.41],
[111,-0.74,-0.66,-0.58,-0.5],
[117,-0.76,-0.68,-0.6,-0.52],
[123,-0.78,-0.7,-0.62],
[129,-0.8,-0.72,-0.64],
[135,-0.78,-0.7]];
const wtRed = [[-2.51,285.5],[2.14,305],[2.23,291],[2.09,255],[2.27,244],[2.45,236],[2.05,190.5],[2.13,186.5],[2.26,164],[2.35,161]];
const wtLab = [['ASCC1',-2.35,275],['PCDHGA10',1.63,296],['PCDHGA12',2.45,280],['PCDHGA7',1.5,265.4],['MB21D1',2.17,248.4],['LY75',2.62,225.8],['C2orf40',1.88,199.6],['ARHGDIB',2.52,176.7],['ZNF154',1.73,169],['C17orf107',2.51,151]];
const wtSeg = [[1.91,264.4,2.09,255],[2.03,167.9,2.26,163.6]];

const FONT = '"Liberation Sans", Arial, sans-serif';
const BLUE = 'rgba(31,99,170,0.82)';
const CORE = 'rgb(33,99,168)';
const LIGHT = 'rgba(120,175,220,0.9)';
const RED = 'rgba(200,52,68,0.92)';

const toPts = arr => arr.map(p => ({x: p[0], y: p[1]}));
const fromRows = rows => rows.flatMap(r => r.slice(1).map(x => ({x, y: r[0]})));
const fmt = v => v < 0 ? '\u2212' + Math.abs(v) : String(v);

const facetPlugin = {
  id: 'facet',
  beforeDraw(chart, args, o) {
    const {ctx, chartArea: a} = chart;
    ctx.save();
    ctx.fillStyle = '#d9d9d9';
    ctx.fillRect(a.left, 1, a.right - a.left, a.top - 1);
    ctx.strokeStyle = '#333';
    ctx.lineWidth = 1;
    ctx.strokeRect(a.left, 1.5, a.right - a.left, a.top - 1.5);
    ctx.fillStyle = '#1a1a1a';
    ctx.font = '16px ' + FONT;
    ctx.textAlign = 'center';
    ctx.textBaseline = 'middle';
    ctx.fillText(o.title, (a.left + a.right) / 2, (a.top + 1) / 2 + 1);
    ctx.restore();
  },
  afterDatasetsDraw(chart, args, o) {
    const {ctx, chartArea: a, scales: {x, y}} = chart;
    ctx.save();
    ctx.beginPath();
    ctx.rect(a.left, a.top, a.right - a.left, a.bottom - a.top);
    ctx.clip();
    ctx.strokeStyle = '#111';
    ctx.lineWidth = 1;
    ctx.setLineDash([1, 2.6]);
    vLines.forEach(v => {
      const px = Math.round(x.getPixelForValue(v)) + 0.5;
      ctx.beginPath(); ctx.moveTo(px, a.top); ctx.lineTo(px, a.bottom); ctx.stroke();
    });
    hLines.forEach(v => {
      const py = Math.round(y.getPixelForValue(v)) + 0.5;
      ctx.beginPath(); ctx.moveTo(a.left, py); ctx.lineTo(a.right, py); ctx.stroke();
    });
    ctx.setLineDash([]);
    ctx.lineWidth = 0.9;
    (o.segs || []).forEach(s => {
      ctx.beginPath();
      ctx.moveTo(x.getPixelForValue(s[0]), y.getPixelForValue(s[1]));
      ctx.lineTo(x.getPixelForValue(s[2]), y.getPixelForValue(s[3]));
      ctx.stroke();
    });
    ctx.restore();
    ctx.save();
    ctx.fillStyle = '#000';
    ctx.font = '10px ' + FONT;
    ctx.textAlign = 'center';
    ctx.textBaseline = 'middle';
    o.labels.forEach(l => ctx.fillText(l[0], x.getPixelForValue(l[1]), y.getPixelForValue(l[2])));
    ctx.restore();
  },
  afterDraw(chart) {
    const {ctx, chartArea: a} = chart;
    ctx.save();
    ctx.strokeStyle = '#333';
    ctx.lineWidth = 1;
    ctx.strokeRect(a.left, a.top, a.right - a.left, a.bottom - a.top);
    ctx.restore();
  }
};

function gridColor(ctx, major) {
  return major.includes(ctx.tick.value) ? '#e8e8e8' : '#f4f4f4';
}
function gridWidth(ctx, major) {
  return major.includes(ctx.tick.value) ? 1.3 : 0.7;
}

function makePanel(p) {
  const cv = document.createElement('canvas');
  const W = p.col === 0 ? 426 : 370;
  const H = p.xAxis ? 354 : 324;
  cv.width = W; cv.height = H;
  cv.style.left = (p.col === 0 ? 0 : 430) + 'px';
  cv.style.top = [0, 334, 668][p.row] + 'px';
  document.body.appendChild(cv);
  const yw = p.col === 0 ? 63.3 : 6.7;
  const xh = p.xAxis ? 30.5 : 0.5;
  const yAxis = p.col === 0;

  new Chart(cv, {
    type: 'scatter',
    data: {
      datasets: [
        {data: fromRows(p.core), backgroundColor: CORE, pointRadius: 3.4, borderWidth: 0},
        {data: toPts(p.pts).concat(fromRows(p.mid)), backgroundColor: BLUE, pointRadius: 2.5, borderWidth: 0},
        {data: toPts(centerPts), backgroundColor: LIGHT, pointRadius: 2.5, borderWidth: 0},
        {data: toPts(p.red), backgroundColor: RED, pointRadius: 2.5, borderWidth: 0}
      ]
    },
    options: {
      responsive: false,
      animation: false,
      devicePixelRatio: 1,
      events: [],
      layout: {padding: {top: 32, right: 0.5, left: 0, bottom: 0}, autoPadding: false},
      plugins: {
        legend: {display: false},
        tooltip: {enabled: false},
        facet: {title: p.name, labels: p.labels, segs: p.segs}
      },
      scales: {
        x: {
          type: 'linear', min: X_MIN, max: X_MAX,
          afterBuildTicks: s => { s.ticks = xGrid.map(v => ({value: v})); },
          afterFit: s => { s.height = xh; },
          ticks: {display: p.xAxis, autoSkip: false, maxRotation: 0, padding: 3, color: '#333',
                  font: {size: 15.5, family: FONT},
                  callback: v => xLabels.includes(v) ? fmt(v) : ''},
          grid: {color: c => gridColor(c, xLabels), lineWidth: c => gridWidth(c, xLabels),
                 drawTicks: p.xAxis, tickLength: 4, tickWidth: 1,
                 tickColor: c => xLabels.includes(c.tick.value) ? '#333' : 'rgba(0,0,0,0)'},
          border: {display: false}
        },
        y: {
          type: 'linear', min: Y_MIN, max: Y_MAX,
          afterBuildTicks: s => { s.ticks = yGrid.map(v => ({value: v})); },
          afterFit: s => { s.width = yw; },
          ticks: {display: yAxis, autoSkip: false, padding: 4, color: '#333',
                  font: {size: 15.5, family: FONT},
                  callback: v => yLabels.includes(v) ? fmt(v) : ''},
          grid: {color: c => gridColor(c, yLabels), lineWidth: c => gridWidth(c, yLabels),
                 drawTicks: yAxis, tickLength: 4, tickWidth: 1,
                 tickColor: c => yLabels.includes(c.tick.value) ? '#333' : 'rgba(0,0,0,0)'},
          border: {display: false}
        }
      }
    },
    plugins: [facetPlugin]
  });
}

const panels = [
  {name: 'CCSK', col: 0, row: 0, xAxis: false, pts: ccskPts, mid: ccskMid, core: ccskCore, red: ccskRed, labels: ccskLab},
  {name: 'NBL',  col: 1, row: 0, xAxis: false, pts: nblPts,  mid: nblMid,  core: nblCore,  red: nblRed,  labels: nblLab},
  {name: 'OS',   col: 0, row: 1, xAxis: false, pts: osPts,   mid: osMid,   core: osCore,   red: osRed,   labels: osLab},
  {name: 'RT',   col: 1, row: 1, xAxis: true,  pts: rtPts,   mid: rtMid,   core: rtCore,   red: rtRed,   labels: rtLab},
  {name: 'WT',   col: 0, row: 2, xAxis: true,  pts: wtPts,   mid: wtMid,   core: wtCore,   red: wtRed,   labels: wtLab, segs: wtSeg}
];
panels.forEach(makePanel);
</script>
</body>
</html>
